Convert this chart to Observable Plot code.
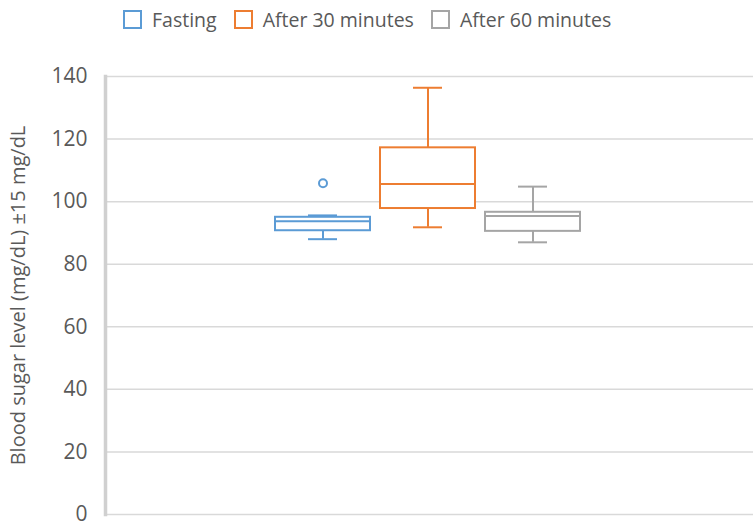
<!DOCTYPE html>
<html>
<head>
<meta charset="utf-8">
<script src="https://cdn.jsdelivr.net/npm/d3@7"></script>
<script src="https://cdn.jsdelivr.net/npm/@observablehq/plot@0.6"></script>
<style>
  html, body { margin: 0; padding: 0; background: #fff; }
  #legend { height: 38px; display: flex; align-items: center; font-family: "Open Sans", sans-serif; font-size: 19.5px; color: #595959; padding-left: 123px; box-sizing: border-box; }
  .item { display: flex; align-items: center; margin-right: 17px; }
  .sw { width: 15px; height: 15px; border: 2px solid; margin-right: 10px; background: #fff; }
</style>
</head>
<body>
<div id="legend"></div>
<div id="chart"></div>
<script>
const categories = ["Fasting", "After 30 minutes", "After 60 minutes"];
const colors = ["#5B9BD5", "#ED7D31", "#A5A5A5"];
const whiskerLow = [88.0, 91.8, 87.0];
const q1 = [90.7, 97.8, 90.5];
const median = [93.7, 105.6, 95.4];
const q3 = [95.0, 117.2, 96.6];
const whiskerHigh = [95.6, 136.4, 104.8];
const outlierCategory = ["Fasting"];
const outlierValue = [105.9];
const yTicks = [0, 20, 40, 60, 80, 100, 120, 140];
const yLabel = "Blood sugar level (mg/dL) ±15 mg/dL";

const boxes = categories.map((c, i) => ({
  category: c, lo: whiskerLow[i], q1: q1[i], med: median[i], q3: q3[i], hi: whiskerHigh[i]
}));
const outliers = outlierCategory.map((c, i) => ({category: c, value: outlierValue[i]}));

const legend = document.getElementById("legend");
categories.forEach((c, i) => {
  const it = document.createElement("div");
  it.className = "item";
  const sw = document.createElement("div");
  sw.className = "sw";
  sw.style.borderColor = colors[i];
  const t = document.createElement("span");
  t.textContent = c;
  it.appendChild(sw); it.appendChild(t);
  legend.appendChild(it);
});

const chart = Plot.plot({
  width: 753,
  height: 489,
  marginTop: 38,
  marginBottom: 13,
  marginLeft: 105,
  marginRight: 0,
  style: { fontFamily: "Open Sans, sans-serif", fontSize: "20px", color: "#595959", background: "#fff" },
  x: { domain: categories, range: [274, 580], paddingInner: 0.1, paddingOuter: 0, axis: null },
  y: { domain: [0, 140], axis: null },
  color: { domain: categories, range: colors },
  marks: [
    Plot.gridY(yTicks, { stroke: "#D9D9D9", strokeOpacity: 1, strokeWidth: 1.5 }),
    Plot.frame({ anchor: "left", stroke: "#D0D0D0", strokeWidth: 3.5 }),
    Plot.text(yTicks, { y: d => d, text: d => String(d), frameAnchor: "left", dx: -18, textAnchor: "end", lineAnchor: "middle", fontSize: 21, fill: "#595959" }),
    Plot.text([yLabel], { frameAnchor: "left", rotate: -90, dx: -87, fontSize: 20, fill: "#595959", textAnchor: "middle", lineAnchor: "middle" }),
    Plot.ruleX(boxes, { x: "category", y1: "q3", y2: "hi", stroke: "category", strokeWidth: 2 }),
    Plot.ruleX(boxes, { x: "category", y1: "lo", y2: "q1", stroke: "category", strokeWidth: 2 }),
    Plot.tickY(boxes, { x: "category", y: "hi", stroke: "category", strokeWidth: 2, insetLeft: 33, insetRight: 33 }),
    Plot.tickY(boxes, { x: "category", y: "lo", stroke: "category", strokeWidth: 2, insetLeft: 33, insetRight: 33 }),
    Plot.barY(boxes, { x: "category", y1: "q1", y2: "q3", fill: "white", stroke: "category", strokeWidth: 2 }),
    Plot.tickY(boxes, { x: "category", y: "med", stroke: "category", strokeWidth: 2 }),
    Plot.dot(outliers, { x: "category", y: "value", stroke: "category", r: 4, strokeWidth: 2, fill: "white" })
  ]
});
document.getElementById("chart").appendChild(chart);
</script>
</body>
</html>
